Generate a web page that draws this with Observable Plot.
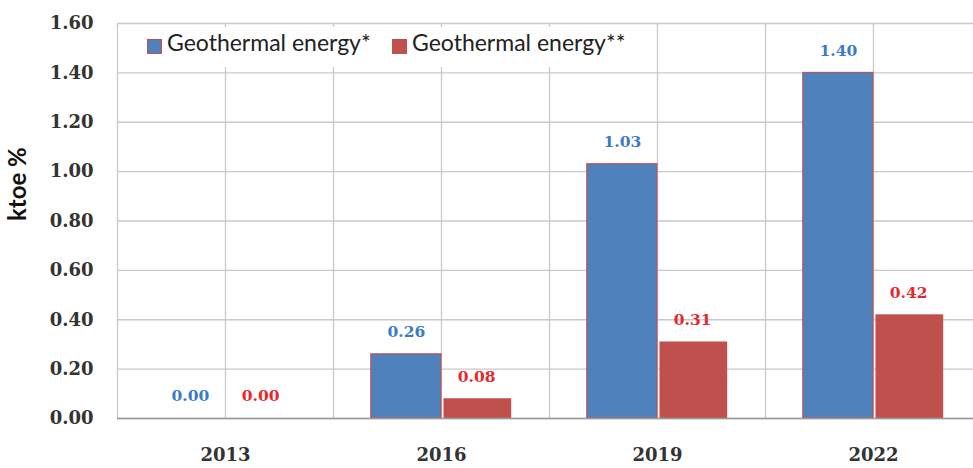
<!DOCTYPE html>
<html>
<head>
<meta charset="utf-8">
<script src="https://cdn.jsdelivr.net/npm/d3@7"></script>
<script src="https://cdn.jsdelivr.net/npm/@observablehq/plot@0.6"></script>
<style>
  html, body { margin: 0; padding: 0; background: #fff; overflow: hidden; }
  #wrap { position: relative; width: 973px; height: 468px; }
  #wrap svg { display: block; }
  #legend { position: absolute; left: 128px; top: 27px; width: 515px; height: 40px; background: #fff;
            font-family: Lato, "Open Sans", sans-serif; font-size: 23px; color: #222; }
  .sw { position: absolute; top: 12px; width: 15px; height: 15px; box-sizing: border-box; }
  .lt { position: absolute; top: 4px; line-height: 22px; white-space: nowrap; }
</style>
</head>
<body>
<div id="wrap"></div>
<script>
// ---- data ----
const years = ["2013", "2016", "2019", "2022"];
const geoStar = [0.00, 0.26, 1.03, 1.40];      // Geothermal energy*
const geoStarStar = [0.00, 0.08, 0.31, 0.42];  // Geothermal energy**
const seriesNames = ["Geothermal energy*", "Geothermal energy**"];
const yTicks = [0, 0.2, 0.4, 0.6, 0.8, 1.0, 1.2, 1.4, 1.6];

// ---- styles ----
const blue = "#4F81BD", red = "#C0504D";
const blueText = "#3A7BC8", redText = "#E5282C";
const grid = "#c8c8c8";
const W = 0.325; // bar width as fraction of category

const rowsA = years.map((y, i) => ({i, year: y, value: geoStar[i]}));
const rowsB = years.map((y, i) => ({i, year: y, value: geoStarStar[i]}));

const serif = "DejaVu Serif";

const chart = Plot.plot({
  width: 973,
  height: 468,
  marginLeft: 117,
  marginRight: 0,
  marginTop: 23,
  marginBottom: 50,
  style: {background: "white", color: "#333"},
  x: {domain: [-0.5, 3.463]},
  y: {domain: [0, 1.6]},
  marks: [
    Plot.ruleY(yTicks, {stroke: grid, strokeWidth: 1.3}),
    Plot.ruleX(d3.range(-0.5, 3.01, 0.5), {y1: 0, y2: 1.6, stroke: grid, strokeWidth: 1.3}),
    Plot.rectY(rowsA, {x1: d => d.i - W, x2: d => d.i, y: "value", fill: blue, stroke: red, strokeWidth: 1.1}),
    Plot.rectY(rowsB, {x1: d => d.i, x2: d => d.i + W, y: "value", fill: red, insetLeft: 2.5}),
    Plot.ruleY([0], {stroke: "#9a9a9a", strokeWidth: 1.6}),
    Plot.text(rowsA, {x: d => d.i - W / 2, y: "value", text: d => d3.format(".2f")(d.value), dy: -22,
      fill: blueText, fontFamily: serif, fontWeight: "bold", fontSize: 15.5}),
    Plot.text(rowsB, {x: d => d.i + W / 2, y: "value", text: d => d3.format(".2f")(d.value), dy: -22,
      fill: redText, fontFamily: serif, fontWeight: "bold", fontSize: 15.5}),
    Plot.axisY({ticks: yTicks, tickFormat: d3.format(".2f"), tickSize: 0, tickPadding: 24, label: null,
      fontFamily: serif, fontWeight: "bold", fontSize: 18}),
    Plot.axisX({ticks: [0, 1, 2, 3], tickFormat: i => years[i], tickSize: 0, tickPadding: 30, label: null,
      fontFamily: serif, fontWeight: "bold", fontSize: 18}),
    Plot.text(["ktoe %"], {frameAnchor: "left", dx: -99, rotate: -90, fontFamily: "Lato", fontWeight: "bold",
      fontSize: 24, fill: "#111"})
  ]
});

const wrap = document.getElementById("wrap");
wrap.appendChild(chart);

const legend = document.createElement("div");
legend.id = "legend";
legend.innerHTML =
  `<div class="sw" style="left:19px;background:${blue};border:1.5px solid ${red}"></div>` +
  `<div class="lt" style="left:39px">${seriesNames[0]}</div>` +
  `<div class="sw" style="left:264px;background:${red}"></div>` +
  `<div class="lt" style="left:284px">${seriesNames[1]}</div>`;
wrap.appendChild(legend);
</script>
</body>
</html>
